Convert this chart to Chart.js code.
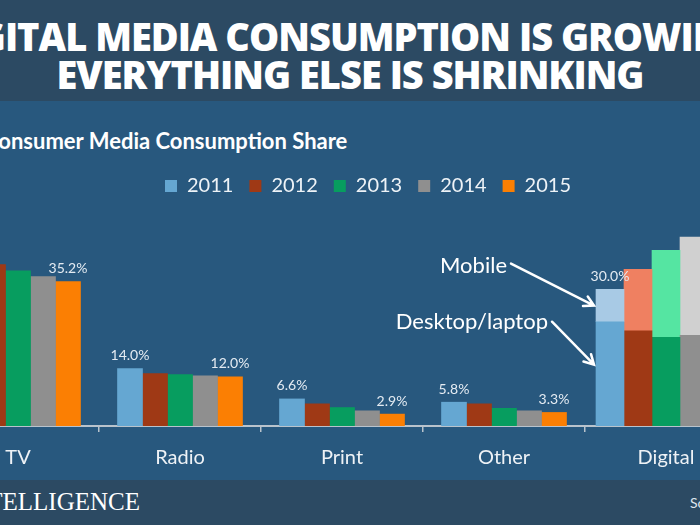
<!DOCTYPE html>
<html>
<head>
<meta charset="utf-8">
<script src="https://cdn.jsdelivr.net/npm/chart.js@4.4.0/dist/chart.umd.min.js"></script>
<style>
  html, body { margin: 0; padding: 0; }
  body { width: 700px; height: 525px; overflow: hidden; position: relative; background: #28587e; font-family: Lato, sans-serif; }
  .band { position: absolute; left: 0; width: 700px; background: #2c4a63; overflow: hidden; }
  .title { position: absolute; left: -250px; width: 1200px; text-align: center; color: #fff;
           font-family: "Open Sans", sans-serif; font-weight: 800; font-size: 38px; white-space: nowrap; letter-spacing: -1px; }
  .sub { position: absolute; left: -16px; top: 127px; color: #fff; font-family: Lato, sans-serif; font-weight: 700; font-size: 22px; white-space: nowrap; }
  .logo { position: absolute; right: 560px; top: 488px; color: #fff; font-family: "Liberation Serif", serif; font-size: 25px; white-space: nowrap; }
  .src { position: absolute; left: 690px; top: 494px; color: #dfe6ee; font-size: 14px; white-space: nowrap; }
  #wrap { position: absolute; left: -63px; top: 160px; width: 862px; height: 320px; }
</style>
</head>
<body>
<div class="band" style="top:0;height:101px">
  <div class="title" style="top:10px">DIGITAL MEDIA CONSUMPTION IS GROWING,</div>
  <div class="title" style="top:48px">EVERYTHING ELSE IS SHRINKING</div>
</div>
<div class="sub">Consumer Media Consumption Share</div>
<div id="wrap"><canvas id="c" width="862" height="320"></canvas></div>
<div class="band" style="top:480px;height:45px"></div>
<div class="logo">BI INTELLIGENCE</div>
<div class="src">Source: eMarketer</div>
<script>
const categories = ['TV', 'Radio', 'Print', 'Other', 'Digital'];
const years = ['2011', '2012', '2013', '2014', '2015'];

// share of media time, %
const tv = [40.8, 39.3, 37.8, 36.4, 35.2];
const radio = [14.0, 12.8, 12.5, 12.2, 12.0];
const print = [6.6, 5.4, 4.5, 3.7, 2.9];
const other = [5.8, 5.4, 4.3, 3.7, 3.3];
const desktop = [25.4, 23.2, 21.6, 22.1, 21.0];
const mobile = [7.9, 15.0, 21.2, 23.9, 28.5];

// labels printed above first / last bar of each group
const endLabels = [['40.8%', '35.2%'], ['14.0%', '12.0%'], ['6.6%', '2.9%'], ['5.8%', '3.3%'], ['30.0%', '']];

const yearColors = ['#65a7d2', '#9f3915', '#079d5f', '#8f8f8f', '#fb7f03'];
const mobileColors = ['#a8cae5', '#ef8061', '#55e5a2', '#d0d0d0', '#fdb56a'];

const datasets = [];
years.forEach((y, i) => {
  datasets.push({
    label: y,
    data: [tv[i], radio[i], print[i], other[i], null],
    backgroundColor: yearColors[i],
    stack: 's' + y,
    barThickness: 25,
    borderWidth: 0
  });
});
years.forEach((y, i) => {
  datasets.push({
    label: 'Desktop ' + y,
    data: [null, null, null, null, desktop[i]],
    backgroundColor: yearColors[i],
    stack: 's' + y,
    barThickness: 28,
    borderWidth: 0
  });
});
years.forEach((y, i) => {
  datasets.push({
    label: 'Mobile ' + y,
    data: [null, null, null, null, mobile[i]],
    backgroundColor: mobileColors[i],
    stack: 's' + y,
    barThickness: 28,
    borderWidth: 0
  });
});

function arrow(ctx, x1, y1, x2, y2) {
  const a = Math.atan2(y2 - y1, x2 - x1);
  ctx.beginPath();
  ctx.moveTo(x1, y1);
  ctx.lineTo(x2, y2);
  ctx.moveTo(x2 - 11 * Math.cos(a - 0.5), y2 - 11 * Math.sin(a - 0.5));
  ctx.lineTo(x2, y2);
  ctx.lineTo(x2 - 11 * Math.cos(a + 0.5), y2 - 11 * Math.sin(a + 0.5));
  ctx.stroke();
}

const barLabels = {
  id: 'barLabels',
  afterDatasetsDraw(chart) {
    const ctx = chart.ctx;
    ctx.save();
    ctx.font = '14px Lato';
    ctx.fillStyle = '#e4ebf2';
    ctx.textAlign = 'center';
    ctx.textBaseline = 'bottom';
    categories.forEach((c, i) => {
      [0, 4].forEach((d, k) => {
        const txt = endLabels[i][k];
        if (!txt) return;
        const ds = i === 4 ? 10 + d : d;
        const el = chart.getDatasetMeta(ds).data[i];
        ctx.fillText(txt, el.x, el.y - 6);
      });
    });

    // Mobile / Desktop callouts on the 2011 digital bar
    const dEl = chart.getDatasetMeta(5).data[4];
    const mEl = chart.getDatasetMeta(10).data[4];
    const left = dEl.x - dEl.width / 2;
    const mMid = (mEl.y + mEl.base) / 2;
    ctx.font = '22px Lato';
    ctx.fillStyle = '#ffffff';
    ctx.textAlign = 'right';
    ctx.textBaseline = 'middle';
    ctx.fillText('Mobile', left - 89, mMid - 40);
    ctx.fillText('Desktop/laptop', left - 48, dEl.y);
    ctx.strokeStyle = '#ffffff';
    ctx.lineWidth = 2.5;
    ctx.lineCap = 'round';
    arrow(ctx, left - 85, mMid - 42, left - 2, mMid);
    arrow(ctx, left - 44, dEl.y, left - 2, dEl.y + 43);
    ctx.restore();
  }
};

new Chart(document.getElementById('c'), {
  type: 'bar',
  data: { labels: categories, datasets: datasets },
  options: {
    responsive: false,
    animation: false,
    layout: { padding: 0 },
    plugins: {
      tooltip: { enabled: false },
      legend: {
        display: true,
        position: 'top',
        labels: {
          filter: item => item.datasetIndex < 5,
          boxWidth: 12,
          boxHeight: 12,
          padding: 16,
          color: '#eef3f7',
          font: { family: 'Lato', size: 20 }
        }
      }
    },
    scales: {
      x: {
        offset: true,
        grid: { offset: true, drawOnChartArea: false, drawTicks: true, tickLength: 6, color: '#b9c3cc', lineWidth: 1.5 },
        border: { color: '#b9c3cc', width: 2 },
        ticks: { color: '#eef2f6', font: { family: 'Lato', size: 20 }, padding: 14 },
        afterFit: s => { s.height = 54; }
      },
      y: {
        position: 'right',
        min: 0,
        max: 53.6,
        ticks: { display: false },
        grid: { display: false },
        border: { display: false },
        afterFit: s => { s.width = 52; }
      }
    }
  },
  plugins: [barLabels]
});
</script>
</body>
</html>
